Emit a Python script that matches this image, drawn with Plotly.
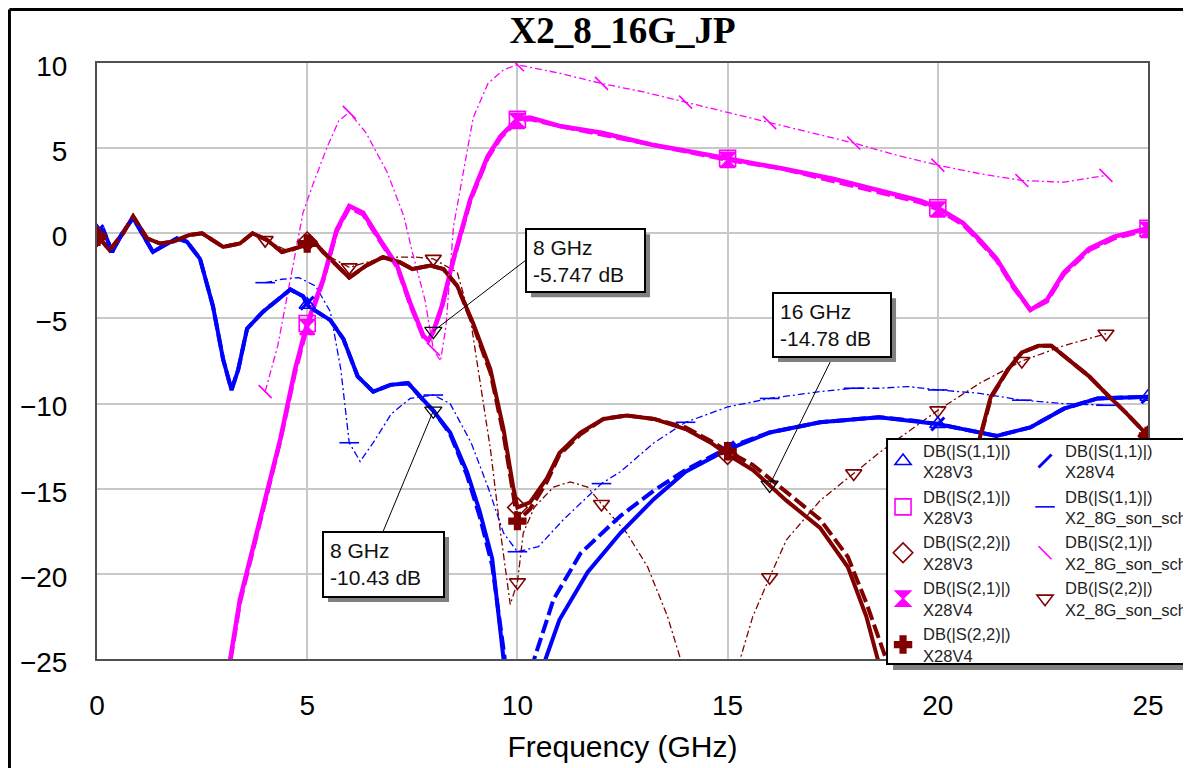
import plotly.graph_objects as go

# ---- data (frequency in GHz, magnitude in dB) ----

# DB(|S(1,1)|) X28V3
s11_v3_f = [0, 0.15, 0.36, 0.6, 0.86, 1.33, 1.6, 1.9, 2.14, 2.45, 2.76, 3.0, 3.2, 3.36, 3.57,
            3.95, 4.3, 4.6, 4.9, 5.0, 5.1, 5.55, 5.86, 6.2, 6.57, 6.98, 7.4, 7.76, 8.0, 8.4,
            8.8, 9.1, 9.4, 9.67, 10.0, 10.3, 10.67, 11.0, 11.67, 12.45, 13.25, 14.0, 15.0, 16.0,
            17.2, 18.6, 19.4, 20.0, 20.6, 21.4, 22.2, 23.0, 23.8, 25.0]
s11_v3_db = [0.1, 0.2, -1.1, 0.0, 0.9, -1.1, -0.7, -0.3, -0.5, -1.5, -4.3, -7.4, -9.2, -8.0, -5.6,
             -4.6, -3.9, -3.3, -3.7, -4.2, -4.4, -5.1, -6.2, -8.4, -9.3, -8.9, -8.8, -9.8, -10.43, -11.7,
             -14.0, -16.3, -19.1, -25.0, -31.0, -28.0, -25.0, -22.7, -19.9, -17.6, -15.6, -14.0, -12.7, -11.7,
             -11.1, -10.8, -11.0, -11.2, -11.5, -11.9, -11.4, -10.3, -9.7, -9.6]

# DB(|S(1,1)|) X28V4
s11_v4_f = [0, 0.15, 0.36, 0.6, 0.86, 1.33, 1.6, 1.9, 2.14, 2.45, 2.76, 3.0, 3.2, 3.36, 3.57,
            3.95, 4.3, 4.6, 4.9, 5.0, 5.1, 5.55, 5.86, 6.2, 6.57, 6.98, 7.4, 7.76, 8.0, 8.4,
            8.8, 9.1, 9.4, 9.7, 10.0, 10.4, 10.86, 11.5, 12.45, 13.25, 14.0, 15.0, 16.0, 17.2,
            18.6, 19.4, 20.0, 20.6, 21.4, 22.2, 23.0, 23.8, 25.0]
s11_v4_db = [0.1, 0.2, -1.1, 0.0, 0.9, -1.1, -0.7, -0.3, -0.5, -1.5, -4.3, -7.4, -9.2, -8.0, -5.6,
             -4.6, -3.9, -3.3, -3.7, -4.1, -4.4, -5.1, -6.2, -8.4, -9.3, -8.9, -8.8, -9.8, -10.4, -11.8,
             -14.2, -16.6, -19.5, -25.0, -29.0, -25.0, -21.5, -18.8, -16.6, -15.1, -13.9, -12.6, -11.7, -11.1,
             -10.8, -11.0, -11.2, -11.5, -11.9, -11.4, -10.3, -9.7, -9.6]

# DB(|S(2,1)|) X28V3 / X28V4
s21_f = [2.6, 3.17, 3.4, 3.64, 4.0, 4.36, 4.71, 5.0, 5.38, 5.7, 6.0, 6.33, 6.74, 7.14, 7.45,
         7.76, 7.88, 8.0, 8.2, 8.48, 8.88, 9.29, 9.6, 10.0, 10.3, 11.0, 12.0, 13.2, 14.1, 15.0,
         16.3, 17.5, 18.6, 19.6, 20.0, 20.6, 21.0, 21.4, 21.8, 22.2, 22.6, 23.0, 23.6, 24.2, 25.0]
s21_v3_db = [-35.0, -25.0, -21.5, -19.2, -15.6, -12.1, -8.0, -5.3, -2.7, 0.2, 1.6, 1.2, -0.4, -1.9, -4.1,
             -6.0, -6.3, -5.75, -4.3, -1.5, 2.0, 4.5, 5.7, 6.7, 6.8, 6.3, 5.9, 5.2, 4.8, 4.4,
             3.8, 3.2, 2.5, 1.9, 1.5, 0.6, -0.4, -1.5, -3.1, -4.5, -3.9, -2.3, -0.9, -0.2, 0.3]
s21_v4_db = [-35.0, -25.2, -21.7, -19.3, -15.8, -12.2, -8.2, -5.5, -2.8, 0.1, 1.5, 1.1, -0.5, -2.0, -4.2,
             -6.1, -6.3, -5.8, -4.4, -1.6, 1.9, 4.4, 5.6, 6.6, 6.7, 6.3, 5.8, 5.2, 4.7, 4.3,
             3.8, 3.1, 2.4, 1.8, 1.4, 0.5, -0.5, -1.6, -3.2, -4.5, -4.0, -2.4, -1.0, -0.3, 0.2]

# DB(|S(2,2)|) X28V3 / X28V4
s22_f = [0, 0.1, 0.3, 0.62, 0.86, 1.19, 1.5, 1.8, 2.2, 2.5, 3.0, 3.4, 3.7, 4.05, 4.4,
         4.83, 5.0, 5.1, 5.38, 5.7, 6.0, 6.4, 6.8, 7.2, 7.5, 7.93, 8.24, 8.57, 8.95, 9.36,
         9.67, 9.9, 10.0, 10.3, 10.7, 11.0, 11.5, 12.05, 12.6, 13.25, 14.0, 14.6, 15.0, 15.6, 16.0,
         16.4, 17.2, 17.86, 18.3, 18.57, 19.2, 19.8, 20.4, 21.0, 21.26, 21.67, 22.0, 22.4, 22.7, 23.1,
         23.6, 24.0, 24.5, 25.0]
s22_v3_db = [-0.2, -0.4, -1.0, 0.0, 1.0, -0.3, -0.6, -0.5, -0.1, 0.0, -0.8, -0.6, 0.0, -0.4, -1.1,
             -0.8, -0.5, -0.3, -1.1, -1.9, -2.6, -1.9, -1.4, -1.7, -2.1, -1.9, -2.1, -3.1, -5.3, -8.0,
             -11.5, -14.9, -16.1, -15.8, -14.4, -12.9, -11.7, -10.9, -10.7, -10.9, -11.5, -12.3, -13.0, -13.9, -14.78,
             -15.7, -17.3, -19.6, -22.5, -25.0, -29.0, -25.0, -17.0, -12.0, -9.6, -8.0, -7.0, -6.6, -6.6, -7.4,
             -8.4, -9.4, -10.6, -11.9]
s22_v4_db = [-0.2, -0.4, -1.0, 0.0, 1.0, -0.3, -0.6, -0.5, -0.1, 0.0, -0.8, -0.6, 0.0, -0.4, -1.1,
             -0.8, -0.6, -0.3, -1.1, -1.9, -2.6, -1.9, -1.4, -1.7, -2.1, -1.9, -2.1, -3.1, -5.4, -8.2,
             -11.8, -15.3, -16.9, -16.2, -14.6, -13.0, -11.8, -10.9, -10.7, -10.9, -11.4, -12.2, -12.8, -13.6, -14.4,
             -15.2, -16.8, -19.0, -21.7, -23.6, -28.0, -25.0, -17.2, -12.1, -9.7, -8.0, -7.0, -6.6, -6.6, -7.4,
             -8.4, -9.4, -10.6, -11.9]

# X2_8G_son_sch (EM simulation, 4..24 GHz)
son_s11_f = [4.0, 4.4, 4.8, 5.2, 5.55, 5.8, 6.0, 6.26, 6.57, 7.0, 7.45, 8.0, 8.4, 8.9, 9.3,
             9.67, 10.0, 10.5, 11.1, 11.8, 12.0, 12.45, 13.25, 14.0, 15.0, 16.0, 17.2, 18.0, 18.6, 19.3,
             20.0, 21.0, 22.0, 23.0, 24.0]
son_s11_db = [-2.9, -2.7, -2.6, -3.1, -4.6, -8.0, -12.3, -13.4, -12.3, -10.6, -9.7, -9.5, -10.0, -12.3, -14.9,
              -17.6, -18.7, -18.4, -16.8, -15.2, -14.7, -14.0, -12.3, -11.1, -10.2, -9.7, -9.3, -9.1, -9.1, -9.0,
              -9.2, -9.4, -9.8, -10.0, -10.1]

son_s21_f = [4.0, 4.3, 4.6, 4.9, 5.14, 5.48, 5.75, 6.0, 6.4, 6.9, 7.3, 7.5, 7.8, 8.0, 8.17,
             8.3, 8.48, 8.71, 8.95, 9.3, 9.67, 10.0, 11.0, 12.0, 13.0, 14.0, 15.0, 16.0, 17.0, 18.0,
             19.0, 20.0, 21.0, 22.0, 23.0, 24.0]
son_s21_db = [-9.3, -6.6, -2.7, 1.2, 2.9, 5.1, 6.6, 7.1, 5.9, 3.6, 1.0, -1.1, -3.9, -6.8, -7.5,
              -5.5, 0.4, 3.5, 6.8, 8.8, 9.6, 9.9, 9.4, 8.8, 8.3, 7.7, 7.1, 6.5, 5.9, 5.3,
              4.6, 4.0, 3.5, 3.1, 3.0, 3.4]

son_s22_f = [4.0, 4.6, 5.07, 5.55, 6.0, 6.57, 7.14, 7.6, 8.0, 8.57, 8.88, 9.12, 9.36, 9.6, 9.83,
             10.0, 10.14, 10.4, 10.86, 11.26, 11.67, 12.0, 12.6, 13.1, 13.57, 13.88, 14.6, 15.3, 15.6, 16.0,
             16.4, 17.2, 18.0, 18.6, 19.1, 20.0, 21.0, 22.0, 23.0, 24.0]
son_s22_db = [-0.4, -1.1, -0.5, -1.4, -2.0, -1.6, -1.4, -1.4, -1.5, -2.3, -5.0, -8.8, -12.7, -17.6, -21.8,
              -20.5, -17.6, -16.1, -14.9, -14.6, -14.9, -15.9, -17.6, -19.6, -22.5, -25.0, -28.0, -25.0, -22.5, -20.2,
              -18.0, -15.7, -14.1, -12.9, -12.0, -10.4, -8.8, -7.5, -6.6, -5.9]

# frequencies where the trace symbols are drawn
circuit_marks = [0, 5, 10, 15, 20, 25]
son_marks = [4, 6, 8, 10, 12, 14, 16, 18, 20, 22, 24]

# data markers with their readouts
mkr_freq = [8, 8, 16]
mkr_db = [-5.747, -10.43, -14.78]
mkr_text = ['8 GHz<br>-5.747 dB', '8 GHz<br>-10.43 dB', '16 GHz<br>-14.78 dB']

BLUE = '#0000ff'
MAGENTA = '#ff00ff'
DARKRED = '#800000'

# name, freq, dB, colour, width, dash, symbol, size, marks, legend, rank
series = [
    ('DB(|S(1,1)|)<br>X2_8G_son_sch', son_s11_f, son_s11_db, BLUE, 1.3, '7px,3px,2px,3px', 'line-ew', 14, son_marks, 'legend2', 2),
    ('DB(|S(2,1)|)<br>X2_8G_son_sch', son_s21_f, son_s21_db, MAGENTA, 1.3, '7px,3px,2px,3px', 'line-nw', 13, son_marks, 'legend2', 3),
    ('DB(|S(2,2)|)<br>X2_8G_son_sch', son_s22_f, son_s22_db, DARKRED, 1.3, '7px,3px,2px,3px', 'triangle-down-open', 14, son_marks, 'legend2', 4),
    ('DB(|S(1,1)|)<br>X28V3', s11_v3_f, s11_v3_db, BLUE, 4, 'solid', 'triangle-up-open', 14, circuit_marks, 'legend', 1),
    ('DB(|S(2,1)|)<br>X28V3', s21_f, s21_v3_db, MAGENTA, 4.5, 'solid', 'square-open', 16, circuit_marks, 'legend', 2),
    ('DB(|S(2,2)|)<br>X28V3', s22_f, s22_v3_db, DARKRED, 4, 'solid', 'diamond-open', 15, circuit_marks, 'legend', 3),
    ('DB(|S(1,1)|)<br>X28V4', s11_v4_f, s11_v4_db, BLUE, 4, '14px,5px', 'line-ne', 13, circuit_marks, 'legend2', 1),
    ('DB(|S(2,1)|)<br>X28V4', s21_f, s21_v4_db, MAGENTA, 4, '14px,5px', 'hourglass', 15, circuit_marks, 'legend', 4),
    ('DB(|S(2,2)|)<br>X28V4', s22_f, s22_v4_db, DARKRED, 4, '14px,5px', 'cross', 14, circuit_marks, 'legend', 5),
]

fig = go.Figure()

# the curves
for name, f, db, color, width, dash, symbol, size, marks, leg, rank in series:
    fig.add_trace(go.Scatter(x=f, y=db, mode='lines', showlegend=False, hoverinfo='skip',
                             line=dict(color=color, width=width, dash=dash)))

# the trace symbols (these also make the legend entries)
for name, f, db, color, width, dash, symbol, size, marks, leg, rank in series:
    mx = [x for x in f if x in marks]
    my = [y for x, y in zip(f, db) if x in marks]
    lw = 3 if symbol == 'line-ne' else 1.6
    fig.add_trace(go.Scatter(x=mx, y=my, mode='markers', name=name, legend=leg, legendrank=rank,
                             marker=dict(symbol=symbol, size=size, color=color,
                                         line=dict(color=color, width=lw))))

# data markers
fig.add_trace(go.Scatter(x=mkr_freq, y=mkr_db, mode='markers', showlegend=False,
                         marker=dict(symbol='triangle-down-open', size=15, color='black',
                                     line=dict(color='black', width=1.2))))

shapes = []
annotations = []

# readout boxes (data coords): x0, x1, y0, y1 and the point where the leader meets the box
boxes = [(10.205, 13.035, -3.45, 0.25, 10.205, -1.57),
         (5.376, 8.254, -21.36, -17.54, 6.80, -17.54),
         (16.08, 18.887, -7.26, -3.51, 17.5, -7.26)]
for (x0, x1, y0, y1, lx, ly), fx, fy, txt in zip(boxes, mkr_freq, mkr_db, mkr_text):
    shapes.append(dict(type='line', xref='x', yref='y', x0=fx, y0=fy, x1=lx, y1=ly,
                       line=dict(color='black', width=1)))
    shapes.append(dict(type='rect', xref='x', yref='y', x0=x0 + 0.12, x1=x1 + 0.12,
                       y0=y0 - 0.3, y1=y1 - 0.3, fillcolor='#808080', line=dict(width=0)))
    shapes.append(dict(type='rect', xref='x', yref='y', x0=x0, x1=x1, y0=y0, y1=y1,
                       fillcolor='white', line=dict(color='black', width=2)))
    annotations.append(dict(x=x0 + 0.12, y=(y0 + y1) / 2, xref='x', yref='y', text=txt,
                            showarrow=False, xanchor='left', yanchor='middle', align='left',
                            font=dict(size=21, color='#111111')))

# legend frame with drop shadow
shapes.append(dict(type='rect', xref='paper', yref='paper', x0=0.7574, x1=1.0419, y0=-0.0185, y1=0.359,
                   fillcolor='#808080', line=dict(width=0)))
shapes.append(dict(type='rect', xref='paper', yref='paper', x0=0.7517, x1=1.0362, y0=-0.0084, y1=0.3691,
                   fillcolor='white', line=dict(color='black', width=2)))

# outer frame (left and top edges)
shapes.append(dict(type='line', xref='paper', yref='paper', x0=-0.0833, x1=-0.0833, y0=-0.2, y1=1.0898,
                   line=dict(color='black', width=3)))
shapes.append(dict(type='line', xref='paper', yref='paper', x0=-0.0833, x1=1.05, y0=1.0898, y1=1.0898,
                   line=dict(color='black', width=3)))

legend_style = dict(y=0.3792, xanchor='left', yanchor='top', bgcolor='rgba(0,0,0,0)', borderwidth=0,
                    font=dict(size=16.5, color='#1e1e1e'), itemsizing='trace')

# the page adds an 8 px body margin, so the figure is 8 px smaller than the window
fig.update_layout(
    width=1183, height=760,
    margin=dict(l=89, r=43, t=55, b=109, autoexpand=False),
    paper_bgcolor='white', plot_bgcolor='white',
    font=dict(family='Liberation Sans, Arial, sans-serif', color='black'),
    title=dict(text='X2_8_16G_JP', x=0.5, xref='paper', xanchor='center',
               y=1 - 22 / 760, yref='container', yanchor='middle',
               font=dict(family='Liberation Serif, Times New Roman, serif', size=37, weight='bold', color='black')),
    xaxis=dict(range=[0, 25], tick0=0, dtick=5, showgrid=True, gridcolor='#c8c8c8', gridwidth=1.5,
               showline=True, linecolor='#505050', linewidth=2, mirror=True, zeroline=False,
               ticks='', tickfont=dict(size=28), ticklabelstandoff=20, automargin=False,
               title=dict(text='Frequency (GHz)', font=dict(size=30), standoff=16)),
    yaxis=dict(range=[-25, 10], tick0=0, dtick=5, showgrid=True, gridcolor='#c8c8c8', gridwidth=1.5,
               showline=True, linecolor='#505050', linewidth=2, mirror=True, zeroline=False,
               ticks='', tickfont=dict(size=28), ticklabelstandoff=22, ticklabelshift=3, automargin=False),
    legend=dict(x=0.7479, **legend_style),
    legend2=dict(x=0.883, **legend_style),
    shapes=shapes,
    annotations=annotations,
    showlegend=True,
)

fig.write_html('out.html')
